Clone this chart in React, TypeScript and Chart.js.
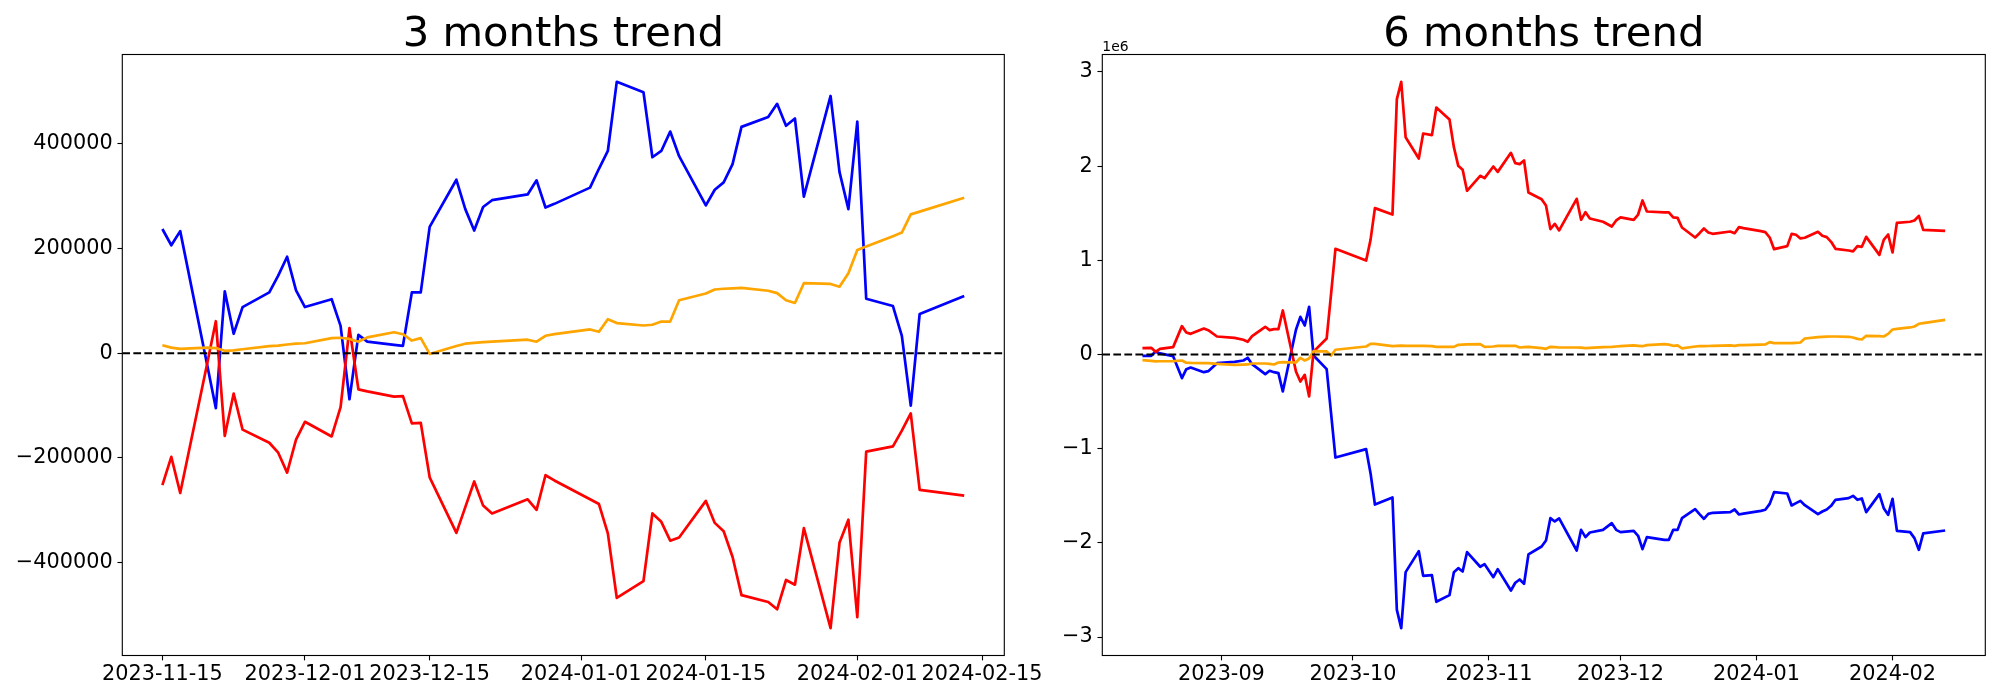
import React, { useEffect, useRef } from 'react';
import { Chart, registerables } from 'chart.js';

Chart.register(...registerables);

// ---------------- data: 3 months panel ----------------
const leftStart = '2023-11-15';
const leftDays = [0, 1, 2, 5, 6, 7, 8, 9, 12, 13, 14, 15, 16, 19, 20, 21, 22, 23, 26, 27, 28, 29, 30, 33, 34, 35, 36, 37, 41, 42, 43, 44, 48, 49, 50, 51, 54, 55, 56, 57, 58, 61, 62, 63, 64, 65, 68, 69, 70, 71, 72, 75, 76, 77, 78, 79, 82, 83, 84, 85, 90];
const leftBlue = [237000, 206000, 233000, -20000, -105000, 118000, 37000, 88000, 116000, 148000, 184000, 120000, 88000, 103000, 52000, -88000, 35000, 22000, 16000, 14000, 116000, 116000, 241000, 331000, 275000, 234000, 279000, 292000, 303000, 330000, 278000, 285000, 316000, 352000, 386000, 518000, 498000, 374000, 386000, 423000, 376000, 282000, 312000, 326000, 361000, 432000, 451000, 476000, 434000, 448000, 299000, 491000, 346000, 275000, 442000, 104000, 90000, 33000, -100000, 75000, 109000];
const leftRed = [-252000, -198000, -267000, -22000, 61000, -158000, -77000, -146000, -171000, -190000, -228000, -165000, -131000, -159000, -103000, 48000, -69000, -73000, -83000, -82000, -134000, -133000, -237000, -343000, -294000, -245000, -291000, -306000, -279000, -299000, -233000, -243000, -279000, -288000, -344000, -467000, -435000, -306000, -322000, -358000, -352000, -282000, -324000, -340000, -389000, -462000, -475000, -489000, -433000, -442000, -334000, -525000, -362000, -318000, -504000, -188000, -178000, -148000, -115000, -261000, -272000];
const leftOrange = [15000, 10500, 8300, 10500, 9800, 4500, 5300, 7500, 13600, 14300, 16600, 18100, 18900, 28700, 29400, 27200, 21900, 30200, 40000, 36200, 24100, 28700, -1500, 13600, 18100, 19600, 21100, 21900, 25700, 21900, 33200, 36200, 45300, 40800, 64900, 57400, 52800, 54300, 60400, 60400, 101100, 114000, 121500, 123000, 123800, 124500, 119200, 114700, 101100, 95800, 133600, 132100, 126800, 152400, 197000, 203800, 223400, 230200, 264900, 270200, 296600];
const leftXTickLabels = ['2023-11-15', '2023-12-01', '2023-12-15', '2024-01-01', '2024-01-15', '2024-02-01', '2024-02-15'];
const leftYTicks = [-400000, -200000, 0, 200000, 400000];

// ---------------- data: 6 months panel ----------------
const rightStart = '2023-08-14';
const rightDays = [0, 2, 3, 4, 7, 9, 10, 11, 14, 15, 17, 21, 23, 24, 25, 28, 29, 30, 31, 32, 35, 36, 37, 38, 39, 42, 43, 44, 51, 52, 53, 57, 58, 59, 60, 63, 64, 66, 67, 70, 71, 72, 73, 74, 77, 78, 80, 81, 84, 85, 86, 87, 88, 91, 92, 93, 94, 95, 99, 100, 101, 102, 105, 107, 108, 109, 112, 113, 114, 115, 119, 120, 121, 122, 123, 126, 127, 128, 129, 130, 134, 135, 136, 137, 141, 142, 143, 144, 147, 148, 149, 150, 151, 154, 155, 156, 157, 158, 161, 162, 163, 164, 165, 168, 169, 170, 171, 172, 175, 176, 177, 178, 183];
const rightRed = [67000, 71000, 28000, 60000, 78000, 301000, 234000, 219000, 276000, 258000, 191000, 177000, 156000, 135000, 195000, 294000, 258000, 269000, 269000, 467000, -181000, -287000, -216000, -446000, 30000, 170000, 640000, 1122000, 998000, 1217000, 1554000, 1486000, 2711000, 2895000, 2307000, 2081000, 2346000, 2329000, 2622000, 2495000, 2201000, 2003000, 1961000, 1738000, 1897000, 1872000, 1996000, 1939000, 2141000, 2031000, 2021000, 2060000, 1720000, 1649000, 1582000, 1331000, 1387000, 1317000, 1653000, 1430000, 1511000, 1444000, 1409000, 1359000, 1423000, 1455000, 1430000, 1486000, 1635000, 1518000, 1508000, 1508000, 1455000, 1451000, 1348000, 1242000, 1288000, 1338000, 1295000, 1281000, 1306000, 1288000, 1352000, 1341000, 1309000, 1299000, 1242000, 1118000, 1150000, 1281000, 1271000, 1232000, 1239000, 1302000, 1260000, 1246000, 1196000, 1122000, 1104000, 1094000, 1150000, 1143000, 1249000, 1058000, 1217000, 1274000, 1083000, 1398000, 1409000, 1423000, 1472000, 1324000, 1313000];
const rightBlue = [-14000, -14000, 32000, 11000, -18000, -251000, -156000, -138000, -188000, -177000, -92000, -78000, -64000, -35000, -103000, -209000, -173000, -188000, -198000, -393000, 262000, 400000, 308000, 506000, -11000, -156000, -622000, -1094000, -1005000, -1260000, -1593000, -1518000, -2711000, -2906000, -2311000, -2088000, -2350000, -2343000, -2626000, -2555000, -2311000, -2269000, -2304000, -2099000, -2254000, -2226000, -2364000, -2279000, -2506000, -2424000, -2389000, -2435000, -2123000, -2039000, -1975000, -1738000, -1773000, -1741000, -2081000, -1862000, -1939000, -1890000, -1862000, -1791000, -1862000, -1886000, -1872000, -1925000, -2067000, -1939000, -1968000, -1968000, -1862000, -1862000, -1738000, -1642000, -1695000, -1745000, -1692000, -1681000, -1674000, -1646000, -1699000, -1690000, -1660000, -1649000, -1586000, -1462000, -1476000, -1603000, -1578000, -1554000, -1600000, -1695000, -1667000, -1646000, -1607000, -1543000, -1525000, -1501000, -1543000, -1529000, -1674000, -1483000, -1632000, -1702000, -1532000, -1872000, -1886000, -1950000, -2074000, -1900000, -1869000];
const rightOrange = [-60000, -67000, -74000, -72000, -71000, -64000, -88000, -90000, -92000, -92000, -99000, -110000, -108000, -106000, -96000, -96000, -100000, -106000, -85000, -81000, -85000, -35000, -64000, -43000, 35000, 32000, -11000, 50000, 85000, 113000, 113000, 89000, 92000, 95000, 92000, 92000, 92000, 88000, 81000, 81000, 81000, 103000, 105000, 107000, 110000, 81000, 85000, 92000, 92000, 92000, 74000, 78000, 81000, 67000, 60000, 81000, 78000, 74000, 74000, 72000, 67000, 70000, 78000, 81000, 85000, 88000, 96000, 92000, 88000, 99000, 110000, 105000, 92000, 96000, 64000, 85000, 88000, 88000, 90000, 92000, 96000, 92000, 99000, 100000, 104000, 106000, 131000, 120000, 120000, 120000, 124000, 127000, 170000, 184000, 186000, 189000, 191000, 191000, 188000, 180000, 166000, 159000, 198000, 195000, 191000, 219000, 265000, 272000, 287000, 297000, 326000, 333000, 368000];
const rightXTickLabels = ['2023-09', '2023-10', '2023-11', '2023-12', '2024-01', '2024-02'];
const rightYTicks = [-3000000, -2000000, -1000000, 0, 1000000, 2000000, 3000000];

// ---------------- layout / style ----------------
const FIG_W = 2000;
const FIG_H = 700;
const PLOT_TOP = 54.5;
const PLOT_BOTTOM = 655.5;
const FONT = '"DejaVu Sans", "Liberation Sans", sans-serif';
const TICK_SIZE = 20.8;
const TITLE_SIZE = 41.7;
const TICK_LEN = 4.86;
const LINE_W = 2.7;
const ZERO_LINE_W = 2.08;

const MS_DAY = 86400000;
function dayOffset(label: string, start: string): number {
  const d = label.length === 7 ? label + '-01' : label;
  return Math.round((Date.parse(d + 'T00:00:00Z') - Date.parse(start + 'T00:00:00Z')) / MS_DAY);
}

function minus(s: string, neg: boolean) {
  return (neg ? '\u2212' : '') + s;
}

const framePlugin = {
  id: 'frame',
  afterDatasetsDraw(chart: any, _args: any, opts: any) {
    const { ctx, chartArea: a, scales } = chart;
    const y0 = scales.y.getPixelForValue(0);
    ctx.save();
    // zero reference line
    ctx.strokeStyle = '#000000';
    ctx.lineWidth = ZERO_LINE_W;
    ctx.setLineDash([7.71, 3.33]);
    ctx.beginPath();
    ctx.moveTo(a.left, y0);
    ctx.lineTo(a.right, y0);
    ctx.stroke();
    ctx.setLineDash([]);
    // frame
    ctx.lineWidth = 1.11;
    ctx.strokeRect(a.left, a.top, a.right - a.left, a.bottom - a.top);
    // title
    ctx.fillStyle = '#000000';
    ctx.font = `${TITLE_SIZE}px ${FONT}`;
    ctx.textAlign = 'center';
    ctx.textBaseline = 'alphabetic';
    ctx.fillText(opts.title, (a.left + a.right) / 2, a.top - 8.33);
    if (opts.offsetText) {
      ctx.font = `13.9px ${FONT}`;
      ctx.textAlign = 'left';
      ctx.fillText(opts.offsetText, a.left, a.top - 4);
    }
    ctx.restore();
  },
};

type Panel = {
  title: string;
  offsetText: string;
  start: string;
  days: number[];
  blue: number[];
  red: number[];
  orange: number[];
  xTickLabels: string[];
  yTicks: number[];
  yDiv: number;
  canvasLeft: number;
  canvasWidth: number;
  plotLeft: number;
  plotRight: number;
};

const panels: Panel[] = [
  {
    title: '3 months trend', offsetText: '', start: leftStart,
    days: leftDays, blue: leftBlue, red: leftRed, orange: leftOrange,
    xTickLabels: leftXTickLabels, yTicks: leftYTicks, yDiv: 1,
    canvasLeft: 0, canvasWidth: 1050, plotLeft: 122.3, plotRight: 1004.3,
  },
  {
    title: '6 months trend', offsetText: '1e6', start: rightStart,
    days: rightDays, blue: rightBlue, red: rightRed, orange: rightOrange,
    xTickLabels: rightXTickLabels, yTicks: rightYTicks, yDiv: 1e6,
    canvasLeft: 1050, canvasWidth: 950, plotLeft: 1102.3, plotRight: 1985.3,
  },
];

function makeChart(canvas: HTMLCanvasElement, p: Panel) {
  const xMin0 = Math.min(...p.days);
  const xMax0 = Math.max(...p.days);
  const xPad = 0.05 * (xMax0 - xMin0);
  const allY = [...p.blue, ...p.red, ...p.orange];
  const yMin0 = Math.min(...allY);
  const yMax0 = Math.max(...allY);
  const yPad = 0.05 * (yMax0 - yMin0);
  const xTickValues = p.xTickLabels.map((l) => dayOffset(l, p.start));
  const pts = (vals: number[]) => p.days.map((d, i) => ({ x: d, y: vals[i] }));
  const axisLeftWidth = p.plotLeft - p.canvasLeft;
  const rightPad = p.canvasLeft + p.canvasWidth - p.plotRight;

  const lineStyle = {
    borderWidth: LINE_W,
    pointRadius: 0,
    tension: 0,
    borderJoinStyle: 'round' as const,
    fill: false,
  };

  return new Chart(canvas, {
    type: 'line',
    data: {
      datasets: [
        { label: 'orange', data: pts(p.orange), borderColor: '#ffa500', ...lineStyle },
        { label: 'red', data: pts(p.red), borderColor: '#ff0000', ...lineStyle },
        { label: 'blue', data: pts(p.blue), borderColor: '#0000ff', ...lineStyle },
      ],
    },
    options: {
      animation: false,
      responsive: false,
      maintainAspectRatio: false,
      devicePixelRatio: 1,
      layout: { padding: { left: 0, top: PLOT_TOP, right: rightPad, bottom: 0 } },
      plugins: {
        legend: { display: false },
        tooltip: { enabled: false },
        title: { display: false },
        // @ts-ignore
        frame: { title: p.title, offsetText: p.offsetText },
      },
      scales: {
        x: {
          type: 'linear',
          min: xMin0 - xPad,
          max: xMax0 + xPad,
          afterBuildTicks: (s: any) => {
            s.ticks = xTickValues.map((v) => ({ value: v }));
          },
          afterFit: (s: any) => {
            s.height = FIG_H - PLOT_BOTTOM;
          },
          ticks: {
            autoSkip: false,
            maxRotation: 0,
            minRotation: 0,
            color: '#000000',
            padding: 2.2,
            font: { family: FONT, size: TICK_SIZE },
            callback: (_v: any, i: number) => p.xTickLabels[i],
          },
          grid: {
            drawOnChartArea: false,
            drawTicks: true,
            tickLength: TICK_LEN,
            tickWidth: 1.11,
            tickColor: '#000000',
          },
          border: { display: false },
        },
        y: {
          type: 'linear',
          min: yMin0 - yPad,
          max: yMax0 + yPad,
          afterBuildTicks: (s: any) => {
            s.ticks = p.yTicks.map((v) => ({ value: v }));
          },
          afterFit: (s: any) => {
            s.width = axisLeftWidth;
          },
          ticks: {
            color: '#000000',
            padding: 4.8,
            font: { family: FONT, size: TICK_SIZE },
            callback: (v: any) => {
              const n = Number(v) / p.yDiv;
              return minus(String(Math.abs(Math.round(n))), n < 0);
            },
          },
          grid: {
            drawOnChartArea: false,
            drawTicks: true,
            tickLength: TICK_LEN,
            tickWidth: 1.11,
            tickColor: '#000000',
          },
          border: { display: false },
        },
      },
    } as any,
    plugins: [framePlugin as any],
  });
}

function PanelChart({ panel }: { panel: Panel }) {
  const ref = useRef<HTMLCanvasElement | null>(null);
  useEffect(() => {
    if (!ref.current) return;
    const chart = makeChart(ref.current, panel);
    return () => chart.destroy();
  }, [panel]);
  return (
    <canvas
      ref={ref}
      width={panel.canvasWidth}
      height={FIG_H}
      style={{
        position: 'absolute',
        left: panel.canvasLeft,
        top: 0,
        width: panel.canvasWidth,
        height: FIG_H,
      }}
    />
  );
}

export default function App() {
  useEffect(() => {
    document.body.style.margin = '0';
    document.body.style.background = '#ffffff';
  }, []);
  return (
    <div
      style={{
        position: 'absolute',
        left: 0,
        top: 0,
        width: FIG_W,
        height: FIG_H,
        background: '#ffffff',
        overflow: 'hidden',
      }}
    >
      {panels.map((p) => (
        <PanelChart key={p.title} panel={p} />
      ))}
    </div>
  );
}
